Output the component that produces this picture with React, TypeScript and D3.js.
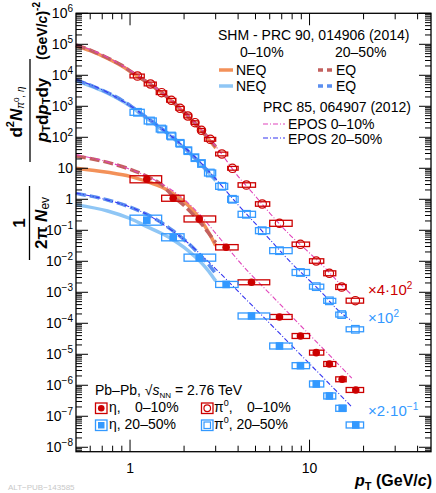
import React from 'react';
import * as d3 from 'd3';

const W = 436;
const H = 493;

// ---------- data (plotted values, already multiplied by the scale factors) ----------
// pi0 bins (both centralities)
const pi0Pt = [1.1, 1.3, 1.5, 1.7, 1.9, 2.1, 2.3, 2.5, 2.8, 3.25, 3.72, 4.45, 5.45, 6.8, 8.9, 10.9, 12.9, 15.1, 18];
const pi0Lo = [1.0, 1.2, 1.4, 1.6, 1.8, 2.0, 2.2, 2.4, 2.6, 3.0, 3.5, 4, 5, 6, 8, 10, 12, 14, 16];
const pi0Hi = [1.2, 1.4, 1.6, 1.8, 2.0, 2.2, 2.4, 2.6, 3.0, 3.5, 4, 5, 6, 8, 10, 12, 14, 16, 20];
// pi0 0-10% (x 4*10^2)
const pi0Central = [9.5e3, 5.24e3, 2.75e3, 1.56e3, 861, 486, 296, 168, 86, 28.9, 10, 2.89, 0.705, 0.168, 0.0353, 0.0102, 4.1e-3, 1.48e-3, 5.36e-4];
const pi0CentralSys = [0.15, 0.15, 0.15, 0.15, 0.15, 0.15, 0.15, 0.15, 0.15, 0.15, 0.15, 0.18, 0.18, 0.25, 0.18, 0.18, 0.2, 0.2, 0.2];
// pi0 20-50% (x 10^2)
const pi0Semi = [640, 336, 185, 110, 64, 37, 22, 14.3, 7.05, 2.62, 1.0, 0.328, 0.097, 0.022, 4.35e-3, 1.52e-3, 5.3e-4, 1.91e-4, 6.4e-5];
const pi0SemiSys = [0.25, 0.25, 0.25, 0.25, 0.25, 0.25, 0.25, 0.25, 0.25, 0.25, 0.25, 0.25, 0.25, 0.25, 0.25, 0.2, 0.2, 0.2, 0.2];

// eta bins
const etaPt = [1.24, 1.74, 2.43, 3.43, 4.75, 6.8, 8.9, 10.9, 12.9, 15.2, 18.1];
const etaLo = [1, 1.5, 2, 3, 4, 6, 8, 10, 12, 14, 16];
const etaHi = [1.5, 2, 3, 4, 6, 8, 10, 12, 14, 16, 20];
// eta 0-10% (x 1)
const etaCentral = [4.42, 1.08, 0.232, 0.0283, 2.1e-3, 1.6e-4, 3.89e-5, 1.13e-5, 4.86e-6, 1.56e-6, 7.05e-7];
const etaCentralSys = [0.3, 0.25, 0.25, 0.22, 0.2, 0.2, 0.2, 0.2, 0.2, 0.2, 0.2];
// eta 20-50% (x 2*10^-1)
const etaSemi = [0.212, 0.0594, 0.0131, 1.79e-3, 1.72e-4, 1.85e-5, 4.29e-6, 1.1e-6, 4.52e-7, 1.81e-7, 5.24e-8];
const etaSemiSys = [0.45, 0.3, 0.3, 0.25, 0.25, 0.25, 0.25, 0.25, 0.25, 0.25, 0.25];

// ---------- model curves ----------
const shmPi0Pt = [0.5, 0.6, 0.7, 0.8, 0.9, 1.0, 1.1, 1.3, 1.5, 1.7, 2.0, 2.5, 3.0];
const shmPi0CentralEQ = [9.5e4, 6.5e4, 4.4e4, 3.0e4, 2.1e4, 1.38e4, 9.5e3, 5.1e3, 2.75e3, 1.55e3, 650, 170, 50];
const shmPi0CentralNEQ = [9.0e4, 6.2e4, 4.2e4, 2.9e4, 2.0e4, 1.35e4, 9.3e3, 5.0e3, 2.7e3, 1.5e3, 620, 160, 45];
const shmPi0SemiEQ = [7.1e3, 4.8e3, 3.3e3, 2.3e3, 1.58e3, 1.07e3, 710, 355, 190, 110, 48, 13.5, 4.4];
const shmPi0SemiNEQ = [6.8e3, 4.6e3, 3.2e3, 2.2e3, 1.52e3, 1.03e3, 680, 340, 182, 104, 45, 12.5, 4.0];

const shmEtaPt = [0.5, 0.75, 1.0, 1.25, 1.5, 1.75, 2.0, 2.25, 2.5, 2.75, 3.0];
const shmEtaCentralEQ = [25, 15.5, 9.3, 5.4, 2.95, 1.2, 0.63, 0.32, 0.16, 0.079, 0.04];
const shmEtaCentralNEQ = [10, 7.4, 5.5, 3.7, 2.5, 1.48, 0.83, 0.43, 0.2, 0.083, 0.032];
const shmEtaSemiEQ = [1.55, 0.95, 0.56, 0.32, 0.174, 0.093, 0.05, 0.027, 0.0141, 7.6e-3, 4.0e-3];
const shmEtaSemiNEQ = [0.66, 0.42, 0.24, 0.129, 0.079, 0.048, 0.028, 0.0158, 8.9e-3, 4.7e-3, 2.3e-3];

const eposPi0Pt = [0.5, 0.7, 1.0, 1.5, 2.0, 2.5, 3.0, 4.0, 5.0, 6.0, 8.0, 10, 12, 14, 17.2];
const eposPi0Central = [1.0e5, 4.6e4, 1.45e4, 2.8e3, 660, 175, 52, 5.5, 1.25, 0.36, 0.06, 0.0185, 6.7e-3, 2.6e-3, 8.2e-4];
const eposPi0Semi = [7.5e3, 3.4e3, 1.05e3, 190, 49, 14.5, 4.6, 0.66, 0.163, 0.051, 8.3e-3, 2.4e-3, 8.4e-4, 3.1e-4, 1.2e-4];
const eposEtaPt = [0.5, 0.7, 1.0, 1.25, 1.5, 2.0, 2.5, 3.05, 4.47, 6, 8.87, 12, 17.2];
const eposEtaCentral = [27.5, 17.8, 9.3, 5.5, 3.16, 1.0, 0.28, 0.071, 5.2e-3, 9.1e-4, 8.7e-5, 1.45e-5, 1.7e-6];
const eposEtaSemi = [1.58, 1.05, 0.56, 0.32, 0.166, 0.05, 0.0158, 5.2e-3, 5.6e-4, 1.0e-4, 1.0e-5, 1.7e-6, 2.0e-7];

const yDecades = d3.range(-8, 7);
const xMajor = [1, 10];
const xMinor = [0.6, 0.7, 0.8, 0.9, 2, 3, 4, 5, 6, 7, 8, 9, 20, 30, 40];

// ---------- colours ----------
const RED = '#cc0000';
const BLUE = '#3399ff';
const C_NEQ0 = '#f39159';
const C_EQ0 = '#c3615f';
const C_NEQ2 = '#8fc6f5';
const C_EQ2 = '#5b8ff0';
const C_EPOS0 = '#e044bb';
const C_EPOS2 = '#3535f0';

const FONT = '"Liberation Sans", Arial, Helvetica, sans-serif';

export default function App() {
  const L = 76, R = 431, T = 13.3, B = 451.7;
  const x = d3.scaleLog().domain([0.5, 47.5]).range([L, R]);
  const y = d3.scaleLog().domain([7.2e-9, 1e6]).range([B, T]);

  const line = d3
    .line<[number, number]>()
    .x((d) => x(d[0]))
    .y((d) => y(d[1]))
    .curve(d3.curveMonotoneX);
  const path = (pts: number[], vals: number[]) => line(pts.map((p, i) => [p, vals[i]] as [number, number])) || '';

  const yMinor: number[] = [];
  for (let d = -9; d <= 5; d++) for (let k = 2; k <= 9; k++) {
    const v = k * Math.pow(10, d);
    if (v > 7.2e-9 && v < 1e6) yMinor.push(v);
  }

  const boxes = (pt: number[], lo: number[], hi: number[], vals: number[], sys: number[], color: string, key: string) =>
    pt.map((p, i) => {
      const v = vals[i];
      const y1 = y(v * (1 + sys[i]));
      const y2 = y(v / (1 + sys[i]));
      return (
        <rect key={key + i} x={x(lo[i])} y={y1} width={x(hi[i]) - x(lo[i])} height={y2 - y1}
          fill="none" stroke={color} strokeWidth={1.3} />
      );
    });

  const markers = (pt: number[], vals: number[], color: string, kind: string, key: string) =>
    pt.map((p, i) => {
      const cx = x(p), cy = y(vals[i]);
      if (kind === 'fc') return <circle key={key + i} cx={cx} cy={cy} r={3.8} fill={color} />;
      if (kind === 'fs') return <rect key={key + i} x={cx - 3.8} y={cy - 3.8} width={7.6} height={7.6} fill={color} />;
      if (kind === 'oc') return <circle key={key + i} cx={cx} cy={cy} r={4.2} fill="none" stroke={color} strokeWidth={1.2} />;
      return <rect key={key + i} x={cx - 3.8} y={cy - 3.8} width={7.6} height={7.6} fill="none" stroke={color} strokeWidth={1.2} />;
    });

  const yLabel = (d: number) => {
    const yy = y(Math.pow(10, d)) + 5;
    if (d === 0) return <text key={'yl' + d} x={73} y={yy} textAnchor="end" fontSize={14}>1</text>;
    if (d === 1) return <text key={'yl' + d} x={73} y={yy} textAnchor="end" fontSize={14}>10</text>;
    return (
      <text key={'yl' + d} x={73} y={yy} textAnchor="end" fontSize={14}>
        10<tspan dy={-6} fontSize={10}>{d < 0 ? '\u2212' + -d : String(d)}</tspan>
      </text>
    );
  };

  const legMarker = (lx: number, ly: number, color: string, kind: string) => (
    <g>
      <rect x={lx} y={ly} width={11.5} height={10.5} fill="none" stroke={color} strokeWidth={1.3} />
      {kind === 'fc' && <circle cx={lx + 5.75} cy={ly + 5.25} r={3.3} fill={color} />}
      {kind === 'fs' && <rect x={lx + 2.5} y={ly + 2} width={6.5} height={6.5} fill={color} />}
      {kind === 'oc' && <circle cx={lx + 5.75} cy={ly + 5.25} r={3.3} fill="none" stroke={color} strokeWidth={1.2} />}
      {kind === 'os' && <rect x={lx + 2.5} y={ly + 2} width={6.5} height={6.5} fill="none" stroke={color} strokeWidth={1.2} />}
    </g>
  );

  return (
    <div style={{ position: 'absolute', left: 0, top: 0 }}>
      <svg width={W} height={H} style={{ display: 'block', background: '#fff' }} fontFamily={FONT}>
        {/* model curves */}
        <g fill="none">
          <path d={path(shmPi0Pt, shmPi0CentralNEQ)} stroke={C_NEQ0} strokeWidth={3.5} />
          <path d={path(shmPi0Pt, shmPi0CentralEQ)} stroke={C_EQ0} strokeWidth={3.5} strokeDasharray="10 4" />
          <path d={path(shmPi0Pt, shmPi0SemiNEQ)} stroke={C_NEQ2} strokeWidth={3.5} />
          <path d={path(shmPi0Pt, shmPi0SemiEQ)} stroke={C_EQ2} strokeWidth={3.5} strokeDasharray="10 4" />
          <path d={path(shmEtaPt, shmEtaCentralNEQ)} stroke={C_NEQ0} strokeWidth={3.5} />
          <path d={path(shmEtaPt, shmEtaCentralEQ)} stroke={C_EQ0} strokeWidth={3.5} strokeDasharray="10 4" />
          <path d={path(shmEtaPt, shmEtaSemiNEQ)} stroke={C_NEQ2} strokeWidth={3.5} />
          <path d={path(shmEtaPt, shmEtaSemiEQ)} stroke={C_EQ2} strokeWidth={3.5} strokeDasharray="10 4" />
          <path d={path(eposPi0Pt, eposPi0Central)} stroke={C_EPOS0} strokeWidth={1.1} strokeDasharray="5 2 1 2" />
          <path d={path(eposPi0Pt, eposPi0Semi)} stroke={C_EPOS2} strokeWidth={1.1} strokeDasharray="5 2 1 2" />
          <path d={path(eposEtaPt, eposEtaCentral)} stroke={C_EPOS0} strokeWidth={1.1} strokeDasharray="5 2 1 2" />
          <path d={path(eposEtaPt, eposEtaSemi)} stroke={C_EPOS2} strokeWidth={1.1} strokeDasharray="5 2 1 2" />
        </g>

        {/* data */}
        {boxes(pi0Pt, pi0Lo, pi0Hi, pi0Central, pi0CentralSys, RED, 'b1')}
        {boxes(pi0Pt, pi0Lo, pi0Hi, pi0Semi, pi0SemiSys, BLUE, 'b2')}
        {boxes(etaPt, etaLo, etaHi, etaCentral, etaCentralSys, RED, 'b3')}
        {boxes(etaPt, etaLo, etaHi, etaSemi, etaSemiSys, BLUE, 'b4')}
        {markers(pi0Pt, pi0Central, RED, 'oc', 'm1')}
        {markers(pi0Pt, pi0Semi, BLUE, 'os', 'm2')}
        {markers(etaPt, etaCentral, RED, 'fc', 'm3')}
        {markers(etaPt, etaSemi, BLUE, 'fs', 'm4')}

        {/* frame and ticks */}
        <rect x={L} y={T} width={R - L} height={B - T} fill="none" stroke="#000" strokeWidth={1.3} />
        <g stroke="#000" strokeWidth={1}>
          {yDecades.map((d) => {
            const yy = y(Math.pow(10, d));
            return (
              <g key={'yt' + d}>
                <line x1={L} x2={L + 12} y1={yy} y2={yy} />
                <line x1={R} x2={R - 12} y1={yy} y2={yy} />
              </g>
            );
          })}
          {yMinor.map((v, i) => {
            const yy = y(v);
            return (
              <g key={'ym' + i}>
                <line x1={L} x2={L + 6} y1={yy} y2={yy} />
                <line x1={R} x2={R - 6} y1={yy} y2={yy} />
              </g>
            );
          })}
          {xMajor.map((v) => (
            <g key={'xt' + v}>
              <line x1={x(v)} x2={x(v)} y1={B} y2={B - 12} />
              <line x1={x(v)} x2={x(v)} y1={T} y2={T + 12} />
            </g>
          ))}
          {xMinor.map((v) => (
            <g key={'xm' + v}>
              <line x1={x(v)} x2={x(v)} y1={B} y2={B - 6} />
              <line x1={x(v)} x2={x(v)} y1={T} y2={T + 6} />
            </g>
          ))}
        </g>

        {/* tick labels */}
        <g fill="#000">
          {yDecades.map(yLabel)}
          {xMajor.map((v) => (
            <text key={'xl' + v} x={x(v)} y={473} textAnchor="middle" fontSize={14}>{v}</text>
          ))}
        </g>

        {/* axis titles */}
        <text x={432} y={486} textAnchor="end" fontSize={16} fontWeight="bold">
          <tspan fontStyle="italic">p</tspan>
          <tspan dy={4} fontSize={11}>T</tspan>
          <tspan dy={-4}> (GeV/</tspan>
          <tspan fontStyle="italic">c</tspan>
          <tspan>)</tspan>
        </text>

        <g fontWeight="bold" fill="#000">
          <text transform="translate(19,223) rotate(-90)" textAnchor="middle" dominantBaseline="central" fontSize={17}>1</text>
          <line x1={29.5} x2={29.5} y1={186} y2={260} stroke="#000" strokeWidth={1.3} />
          <text transform="translate(41,223) rotate(-90)" textAnchor="middle" dominantBaseline="central" fontSize={17}>
            <tspan>2π </tspan>
            <tspan fontStyle="italic">N</tspan>
            <tspan fontSize={12} dy={4} fontWeight="normal">ev</tspan>
          </text>
          <text transform="translate(16,112) rotate(-90)" textAnchor="middle" dominantBaseline="central" fontSize={17}>
            <tspan>d</tspan>
            <tspan fontSize={11} dy={-6}>2</tspan>
            <tspan fontStyle="italic" dy={6}>N</tspan>
            <tspan fontSize={10} dy={4} fontWeight="normal" fontStyle="italic">π</tspan>
            <tspan fontSize={8} dy={-4} fontWeight="normal">0</tspan>
            <tspan fontSize={10} dy={4} fontWeight="normal" fontStyle="italic">, η</tspan>
          </text>
          <line x1={30} x2={30} y1={59} y2={162} stroke="#000" strokeWidth={1.3} />
          <text transform="translate(42,110) rotate(-90)" textAnchor="middle" dominantBaseline="central" fontSize={17}>
            <tspan fontStyle="italic">p</tspan>
            <tspan fontSize={11} dy={4}>T</tspan>
            <tspan dy={-4}>d</tspan>
            <tspan fontStyle="italic">p</tspan>
            <tspan fontSize={11} dy={4}>T</tspan>
            <tspan dy={-4}>dy</tspan>
          </text>
          <text transform="translate(42,31) rotate(-90)" textAnchor="middle" dominantBaseline="central" fontSize={14}>
            <tspan>(GeV/</tspan>
            <tspan fontStyle="italic">c</tspan>
            <tspan>)</tspan>
            <tspan fontSize={10} dy={-6}>-2</tspan>
          </text>
        </g>

        {/* top-right legend */}
        <g fontSize={14} fill="#000">
          <text x={218} y={40}>SHM - PRC 90, 014906 (2014)</text>
          <text x={240} y={57}>0–10%</text>
          <text x={335} y={57}>20–50%</text>
          <line x1={219} x2={233} y1={70} y2={70} stroke={C_NEQ0} strokeWidth={3.5} />
          <text x={236} y={75}>NEQ</text>
          <line x1={318} x2={334} y1={70} y2={70} stroke={C_EQ0} strokeWidth={3.5} strokeDasharray="5 4" />
          <text x={336} y={75}>EQ</text>
          <line x1={219} x2={233} y1={86} y2={86} stroke={C_NEQ2} strokeWidth={3.5} />
          <text x={236} y={91}>NEQ</text>
          <line x1={318} x2={334} y1={86} y2={86} stroke={C_EQ2} strokeWidth={3.5} strokeDasharray="5 4" />
          <text x={336} y={91}>EQ</text>
          <text x={263} y={112}>PRC 85, 064907 (2012)</text>
          <line x1={263} x2={285} y1={124} y2={124} stroke={C_EPOS0} strokeWidth={1.1} strokeDasharray="5 2 1 2" />
          <text x={288} y={129}>EPOS 0–10%</text>
          <line x1={263} x2={285} y1={138} y2={138} stroke={C_EPOS2} strokeWidth={1.1} strokeDasharray="5 2 1 2" />
          <text x={288} y={144}>EPOS 20–50%</text>
        </g>

        {/* scale factors */}
        <text x={368} y={295} fontSize={15} fill={RED}>×4·10<tspan dy={-6} fontSize={10}>2</tspan></text>
        <text x={368} y={323} fontSize={15} fill={BLUE}>×10<tspan dy={-6} fontSize={10}>2</tspan></text>
        <text x={368} y={416} fontSize={15} fill={BLUE}>×2·10<tspan dy={-6} fontSize={10}>−1</tspan></text>

        {/* bottom-left legend */}
        <g fontSize={14} fill="#000">
          <text x={95} y={395}>
            Pb–Pb, √<tspan fontStyle="italic">s</tspan>
            <tspan fontSize={8} dy={3}>NN</tspan>
            <tspan dy={-3}> = 2.76 TeV</tspan>
          </text>
          {legMarker(95.5, 403, RED, 'fc')}
          <text x={109} y={412}>η,</text>
          <text x={135} y={412}>0–10%</text>
          {legMarker(95.5, 420, BLUE, 'fs')}
          <text x={109} y={429}>η, 20–50%</text>
          {legMarker(201.5, 403, RED, 'oc')}
          <text x={214} y={412}>π<tspan fontSize={9} dy={-6}>0</tspan><tspan dy={6}>,</tspan></text>
          <text x={247} y={412}>0–10%</text>
          {legMarker(201.5, 420, BLUE, 'os')}
          <text x={214} y={429}>π<tspan fontSize={9} dy={-6}>0</tspan><tspan dy={6}>, 20–50%</tspan></text>
        </g>

        <text x={8} y={490} fontSize={8} fill="#c8c8c8">ALT−PUB−143585</text>
      </svg>
    </div>
  );
}
